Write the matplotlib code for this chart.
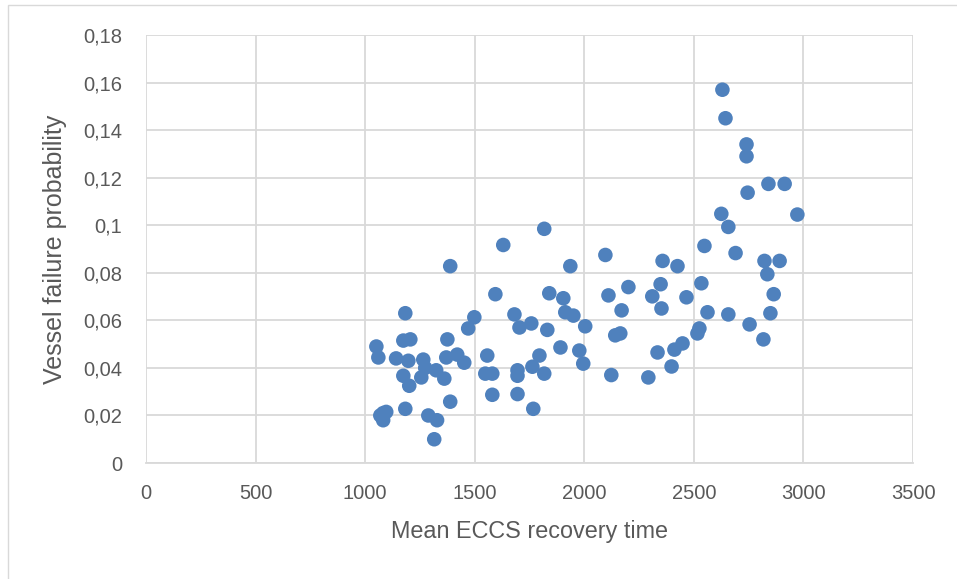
import matplotlib.pyplot as plt
from matplotlib.ticker import FuncFormatter, MultipleLocator
from matplotlib.patches import Rectangle

# Data
recovery_time = [
    1051, 1060, 1141, 1197, 1174, 1201, 1183, 1174, 1206, 1265,
    1274, 1256, 1324, 1361, 1375, 1370, 1420, 1452, 1470, 1498,
    1388, 1557, 1548, 1580, 1580, 1388, 1183, 1082, 1069, 1082,
    1096, 1288, 1328, 1315, 1594, 1630, 1681, 1704, 1758, 1831,
    1695, 1695, 1763, 1795, 1817, 1695, 1767, 1817, 1840, 1904,
    1913, 1950, 2004, 1891, 1977, 1995, 1936, 2096, 2110, 2201,
    2170, 2164, 2141, 2123, 2292, 2310, 2357, 2425, 2348, 2466,
    2352, 2334, 2411, 2448, 2398, 2548, 2534, 2525, 2516, 2562,
    2625, 2657, 2657, 2690, 2630, 2644, 2740, 2740, 2745, 2754,
    2822, 2835, 2891, 2864, 2849, 2817, 2840, 2914, 2972,
]
failure_prob = [
    0.0490, 0.0444, 0.0440, 0.0430, 0.0367, 0.0325, 0.0630, 0.0515, 0.0520, 0.0435,
    0.0400, 0.0360, 0.0390, 0.0355, 0.0520, 0.0444, 0.0456, 0.0422, 0.0566, 0.0613,
    0.0828, 0.0452, 0.0376, 0.0376, 0.0287, 0.0258, 0.0228, 0.0210, 0.0200, 0.0180,
    0.0215, 0.0200, 0.0180, 0.0100, 0.0710, 0.0917, 0.0625, 0.0570, 0.0587, 0.0560,
    0.0390, 0.0367, 0.0405, 0.0452, 0.0376, 0.0290, 0.0228, 0.0985, 0.0714, 0.0693,
    0.0634, 0.0620, 0.0575, 0.0486, 0.0473, 0.0418, 0.0828, 0.0875, 0.0705, 0.0740,
    0.0642, 0.0545, 0.0537, 0.0370, 0.0360, 0.0701, 0.0850, 0.0828, 0.0752, 0.0697,
    0.0650, 0.0465, 0.0477, 0.0503, 0.0406, 0.0913, 0.0756, 0.0566, 0.0545, 0.0634,
    0.1048, 0.0993, 0.0625, 0.0883, 0.1570, 0.1450, 0.1340, 0.1290, 0.1137, 0.0583,
    0.0850, 0.0794, 0.0850, 0.0710, 0.0630, 0.0520, 0.1174, 0.1174, 0.1045,
]

text_color = '#595959'
grid_color = '#d9d9d9'
plt.rcParams['font.family'] = ['Liberation Sans', 'DejaVu Sans']

fig = plt.figure(figsize=(9.57, 5.79), dpi=100)
ax = fig.add_axes([0.1526, 0.2003, 0.8015, 0.7392])

ax.scatter(recovery_time, failure_prob, s=110, color='#4f81bd', edgecolors='none', zorder=3)

ax.set_xlim(0, 3500)
ax.set_ylim(0, 0.18)
ax.xaxis.set_major_locator(MultipleLocator(500))
ax.yaxis.set_major_locator(MultipleLocator(0.02))
ax.yaxis.set_major_formatter(FuncFormatter(lambda v, p: '{:g}'.format(round(v, 2)).replace('.', ',')))

ax.grid(True, color=grid_color, linewidth=1.3)
ax.set_axisbelow(True)
for side in ['left', 'right', 'top']:
    ax.spines[side].set_visible(False)
ax.spines['bottom'].set_color(grid_color)
ax.spines['bottom'].set_linewidth(1.3)
ax.tick_params(length=0, labelsize=14.5, colors=text_color)
ax.tick_params(axis='x', pad=15)
ax.tick_params(axis='y', pad=17)

ax.set_xlabel('Mean ECCS recovery time', fontsize=16.8, color=text_color, va='center')
ax.xaxis.set_label_coords(0.5, -0.161)
ax.set_ylabel('Vessel failure probability', fontsize=18, color=text_color, va='center')
ax.yaxis.set_label_coords(-0.1186, 0.5)

# light outer frame like the chart area border
fig.patches.append(Rectangle((8 / 957, -0.01), 1.0, 1 - 5 / 579 + 0.01, transform=fig.transFigure,
                             fill=False, edgecolor='#d9d9d9', linewidth=1))

fig.savefig('out.png', dpi=100)
